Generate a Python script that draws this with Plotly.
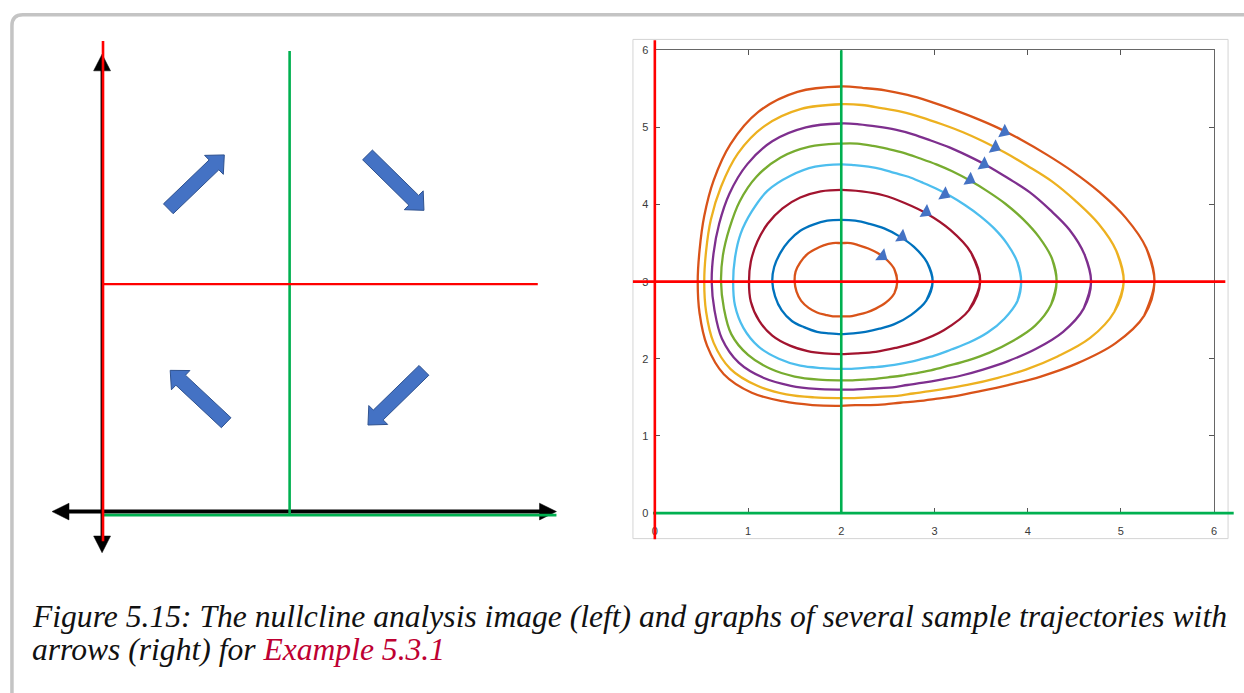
import math
import plotly.graph_objects as go

W, H = 1244, 693

# ======================= DATA =======================
# Right panel: sample trajectories around the equilibrium (2, 3)
orbit_colors = ["#D95319", "#0072BD", "#A2142F", "#4DBEEE", "#77AC30", "#7E2F8E", "#EDB120", "#D95319"]

orbit0_x = [2.60, 2.57, 2.48, 2.37, 2.27, 2.17, 2.09, 2.00, 1.91, 1.83, 1.74, 1.65, 1.57, 1.52, 1.50, 1.51, 1.56, 1.63, 1.72, 1.81, 1.91, 2.00, 2.10, 2.19, 2.29, 2.39, 2.49, 2.57]
orbit0_y = [3.00, 2.85, 2.73, 2.65, 2.60, 2.57, 2.55, 2.55, 2.55, 2.57, 2.60, 2.66, 2.75, 2.87, 3.00, 3.13, 3.25, 3.35, 3.42, 3.47, 3.50, 3.50, 3.50, 3.47, 3.43, 3.37, 3.28, 3.16]
orbit1_x = [2.98, 2.91, 2.75, 2.57, 2.41, 2.26, 2.13, 2.00, 1.87, 1.74, 1.60, 1.47, 1.36, 1.29, 1.26, 1.28, 1.35, 1.44, 1.56, 1.70, 1.85, 2.00, 2.15, 2.30, 2.46, 2.62, 2.78, 2.92]
orbit1_y = [3.00, 2.75, 2.57, 2.45, 2.39, 2.35, 2.33, 2.32, 2.33, 2.35, 2.41, 2.49, 2.63, 2.81, 3.00, 3.19, 3.38, 3.53, 3.66, 3.74, 3.79, 3.80, 3.79, 3.75, 3.69, 3.59, 3.45, 3.25]
orbit2_x = [3.49, 3.37, 3.10, 2.82, 2.58, 2.37, 2.18, 2.00, 1.82, 1.64, 1.45, 1.26, 1.12, 1.03, 1.01, 1.03, 1.10, 1.21, 1.37, 1.56, 1.78, 2.00, 2.22, 2.45, 2.68, 2.92, 3.17, 3.39]
orbit2_y = [3.00, 2.63, 2.37, 2.22, 2.14, 2.09, 2.07, 2.06, 2.07, 2.10, 2.17, 2.30, 2.49, 2.74, 3.00, 3.26, 3.52, 3.75, 3.95, 4.09, 4.17, 4.19, 4.17, 4.12, 4.02, 3.88, 3.67, 3.38]
orbit3_x = [3.93, 3.89, 3.75, 3.57, 3.37, 3.18, 3.00, 2.84, 2.70, 2.57, 2.44, 2.33, 2.22, 2.11, 2.00, 1.79, 1.56, 1.33, 1.11, 0.95, 0.86, 0.84, 0.86, 0.92, 1.04, 1.21, 1.45, 1.72, 2.00, 2.14, 2.29, 2.43, 2.57, 2.72, 2.86, 3.01, 3.17, 3.33, 3.49, 3.64, 3.78, 3.89]
orbit3_y = [3.00, 2.75, 2.52, 2.34, 2.21, 2.12, 2.04, 1.99, 1.95, 1.92, 1.90, 1.89, 1.88, 1.87, 1.87, 1.88, 1.91, 2.00, 2.16, 2.40, 2.69, 3.00, 3.31, 3.62, 3.91, 4.18, 4.37, 4.49, 4.52, 4.51, 4.49, 4.46, 4.41, 4.36, 4.29, 4.21, 4.11, 3.99, 3.85, 3.69, 3.49, 3.25]
orbit4_x = [4.31, 4.25, 4.08, 3.84, 3.59, 3.36, 3.15, 2.96, 2.79, 2.64, 2.50, 2.37, 2.24, 2.12, 2.00, 1.76, 1.50, 1.24, 1.00, 0.82, 0.74, 0.71, 0.73, 0.80, 0.91, 1.09, 1.35, 1.66, 2.00, 2.17, 2.34, 2.50, 2.67, 2.84, 3.02, 3.19, 3.38, 3.57, 3.76, 3.95, 4.12, 4.26]
orbit4_y = [3.00, 2.70, 2.43, 2.23, 2.08, 1.98, 1.91, 1.85, 1.81, 1.78, 1.76, 1.74, 1.73, 1.72, 1.72, 1.73, 1.77, 1.87, 2.05, 2.32, 2.66, 3.00, 3.34, 3.69, 4.04, 4.36, 4.61, 4.75, 4.79, 4.79, 4.76, 4.72, 4.67, 4.60, 4.52, 4.43, 4.31, 4.17, 4.01, 3.81, 3.58, 3.30]
orbit5_x = [4.68, 4.60, 4.38, 4.09, 3.79, 3.52, 3.28, 3.07, 2.88, 2.71, 2.55, 2.41, 2.27, 2.13, 2.00, 1.73, 1.46, 1.17, 0.90, 0.72, 0.64, 0.61, 0.63, 0.69, 0.80, 0.99, 1.26, 1.62, 2.00, 2.19, 2.39, 2.58, 2.77, 2.96, 3.16, 3.36, 3.57, 3.79, 4.02, 4.24, 4.45, 4.61]
orbit5_y = [3.00, 2.65, 2.35, 2.13, 1.97, 1.86, 1.78, 1.73, 1.69, 1.66, 1.63, 1.62, 1.61, 1.60, 1.60, 1.61, 1.65, 1.75, 1.95, 2.26, 2.63, 3.00, 3.37, 3.75, 4.14, 4.52, 4.82, 5.00, 5.05, 5.04, 5.01, 4.97, 4.91, 4.83, 4.74, 4.63, 4.50, 4.34, 4.16, 3.93, 3.67, 3.35]
orbit6_x = [5.03, 4.93, 4.67, 4.32, 3.98, 3.67, 3.39, 3.16, 2.95, 2.77, 2.60, 2.44, 2.29, 2.14, 2.00, 1.71, 1.41, 1.10, 0.81, 0.63, 0.55, 0.53, 0.55, 0.60, 0.71, 0.89, 1.18, 1.57, 2.00, 2.22, 2.43, 2.65, 2.86, 3.08, 3.30, 3.52, 3.76, 4.00, 4.26, 4.51, 4.76, 4.95]
orbit6_y = [3.00, 2.61, 2.27, 2.03, 1.86, 1.75, 1.67, 1.62, 1.58, 1.55, 1.52, 1.51, 1.50, 1.49, 1.49, 1.50, 1.54, 1.65, 1.87, 2.21, 2.61, 3.00, 3.40, 3.80, 4.23, 4.66, 5.02, 5.24, 5.30, 5.29, 5.25, 5.20, 5.13, 5.04, 4.94, 4.82, 4.67, 4.50, 4.30, 4.05, 3.75, 3.40]
orbit7_x = [5.36, 5.25, 4.94, 4.53, 4.14, 3.79, 3.49, 3.24, 3.01, 2.82, 2.63, 2.47, 2.31, 2.15, 2.00, 1.69, 1.37, 1.04, 0.74, 0.56, 0.48, 0.46, 0.48, 0.53, 0.63, 0.81, 1.11, 1.53, 2.00, 2.24, 2.47, 2.71, 2.94, 3.18, 3.42, 3.67, 3.93, 4.20, 4.48, 4.77, 5.05, 5.27]
orbit7_y = [3.00, 2.56, 2.20, 1.94, 1.77, 1.66, 1.58, 1.52, 1.48, 1.45, 1.43, 1.41, 1.40, 1.40, 1.39, 1.40, 1.45, 1.56, 1.80, 2.17, 2.59, 3.00, 3.41, 3.85, 4.31, 4.78, 5.20, 5.46, 5.53, 5.51, 5.48, 5.42, 5.34, 5.24, 5.13, 5.00, 4.84, 4.65, 4.43, 4.16, 3.83, 3.44]

orbits_x = [orbit0_x, orbit1_x, orbit2_x, orbit3_x, orbit4_x, orbit5_x, orbit6_x, orbit7_x]
orbits_y = [orbit0_y, orbit1_y, orbit2_y, orbit3_y, orbit4_y, orbit5_y, orbit6_y, orbit7_y]

# direction arrowheads on the trajectories
arrow_x = [2.44, 2.65, 2.91, 3.11, 3.38, 3.53, 3.65, 3.75]
arrow_y = [3.33, 3.58, 3.90, 4.13, 4.32, 4.52, 4.74, 4.94]
arrow_angle = [37, 32, 30, 29, 29, 28, 27, 26]   # degrees below horizontal

tick_vals = [0, 1, 2, 3, 4, 5, 6]

# nullclines (same in both panels)
red_vertical_x = 0
red_horizontal_y = 3
green_vertical_x = 2
green_horizontal_y = 0

# right-panel nullcline extents
right_red_v_span = [-0.34, 6.13]
right_red_h_span = [-0.235, 6.12]
right_green_v_span = [0, 6]
right_green_h_span = [-0.02, 6.21]

# left panel (nullcline sketch)
left_red_v_span = [-0.34, 6.16]
left_red_h_span = [0, 4.66]
left_green_v_span = [0, 6.03]
left_green_h_span = [0, 4.86]
left_axis_x = -0.01
left_axis_y = 0.045
left_axis_h_span = [-0.546, 4.86]
left_axis_v_span = [-0.49, 5.99]
quad_tail_x = [0.70, 2.835, 1.32, 3.44]
quad_tail_y = [3.98, 4.68, 1.20, 1.88]
quad_tip_x = [1.30, 3.44, 0.72, 2.84]
quad_tip_y = [4.68, 3.96, 1.88, 1.17]

caption_line1 = "Figure 5.15: The nullcline analysis image (left) and graphs of several sample trajectories with"
caption_line2 = "arrows (right) for "
caption_link = "Example 5.3.1"

# ======================= GEOMETRY / STYLE =======================
RED = "#FF0000"
GREEN = "#00B050"
BLUE_FILL = "#4472C4"
BLUE_EDGE = "#2F528F"

def px2x(p): return p / W
def px2y(p): return 1 - p / H

def xaxis_def(px0, px1, origin, scale):
    return dict(domain=[px0 / W, px1 / W], range=[(px0 - origin) / scale, (px1 - origin) / scale])

def yaxis_def(px0, px1, origin, scale):
    return dict(domain=[1 - px1 / H, 1 - px0 / H], range=[(origin - px1) / scale, (origin - px0) / scale])

# left panel mapping
L_OX, L_OY, L_SX, L_SY = 100.5, 518.0, 93.75, 78.3
# right panel mapping
R_OX, R_OY = 655.0, 516.0
R_SX, R_SY = (1217.0 - 655.0) / 6, (516.0 - 45.0) / 6

hidden = dict(visible=False, showgrid=False, zeroline=False, fixedrange=True)

fig = go.Figure()

def line_trace(xs, ys, color, width, xa, ya):
    return go.Scatter(x=xs, y=ys, mode="lines", line=dict(color=color, width=width),
                      xaxis=xa, yaxis=ya, showlegend=False, hoverinfo="skip")

def poly_trace(xs, ys, fill, edge, width, xa, ya):
    return go.Scatter(x=xs, y=ys, mode="lines", fill="toself", fillcolor=fill,
                      line=dict(color=edge, width=width), xaxis=xa, yaxis=ya,
                      showlegend=False, hoverinfo="skip")

def block_arrow(tx, ty, hx, hy, sx, sy, body_w, head_w, head_l):
    ax, ay = tx * sx, ty * sy
    bx, by = hx * sx, hy * sy
    L = math.hypot(bx - ax, by - ay)
    dx, dy = (bx - ax) / L, (by - ay) / L
    nx, ny = -dy, dx
    kx, ky = bx - dx * head_l, by - dy * head_l
    pts = [(ax + nx * body_w / 2, ay + ny * body_w / 2),
           (kx + nx * body_w / 2, ky + ny * body_w / 2),
           (kx + nx * head_w / 2, ky + ny * head_w / 2),
           (bx, by),
           (kx - nx * head_w / 2, ky - ny * head_w / 2),
           (kx - nx * body_w / 2, ky - ny * body_w / 2),
           (ax - nx * body_w / 2, ay - ny * body_w / 2)]
    pts.append(pts[0])
    return [p[0] / sx for p in pts], [p[1] / sy for p in pts]

def head_tri(hx, hy, dx, dy, sx, sy, length, width):
    bx, by = hx * sx, hy * sy
    kx, ky = bx - dx * length, by - dy * length
    nx, ny = -dy, dx
    pts = [(bx, by), (kx + nx * width / 2, ky + ny * width / 2), (kx - nx * width / 2, ky - ny * width / 2), (bx, by)]
    return [p[0] / sx for p in pts], [p[1] / sy for p in pts]

# ---------- left panel (x2/y2) ----------
XL, YL = "x2", "y2"
cut_x = 10 / L_SX
cut_y = 10 / L_SY
fig.add_trace(line_trace([left_axis_h_span[0] + cut_x, left_axis_h_span[1] - cut_x], [left_axis_y, left_axis_y], "black", 4, XL, YL))
fig.add_trace(line_trace([left_axis_x, left_axis_x], [left_axis_v_span[0] + cut_y, left_axis_v_span[1] - cut_y], "black", 3, XL, YL))
for hx, hy, dx, dy in [(left_axis_h_span[0], left_axis_y, -1, 0), (left_axis_h_span[1], left_axis_y, 1, 0),
                       (left_axis_x, left_axis_v_span[0], 0, -1), (left_axis_x, left_axis_v_span[1], 0, 1)]:
    xs, ys = head_tri(hx, hy, dx, dy, L_SX, L_SY, 17, 17)
    fig.add_trace(poly_trace(xs, ys, "black", "black", 0.5, XL, YL))
fig.add_trace(line_trace([green_vertical_x, green_vertical_x], left_green_v_span, GREEN, 2.6, XL, YL))
fig.add_trace(line_trace(left_green_h_span, [green_horizontal_y, green_horizontal_y], GREEN, 2.8, XL, YL))
fig.add_trace(line_trace([red_vertical_x, red_vertical_x], left_red_v_span, RED, 2.6, XL, YL))
fig.add_trace(line_trace(left_red_h_span, [red_horizontal_y, red_horizontal_y], RED, 2.2, XL, YL))
for tx, ty, hx, hy in zip(quad_tail_x, quad_tail_y, quad_tip_x, quad_tip_y):
    xs, ys = block_arrow(tx, ty, hx, hy, L_SX, L_SY, 14, 27, 14.5)
    fig.add_trace(poly_trace(xs, ys, BLUE_FILL, BLUE_EDGE, 1, XL, YL))

# ---------- right panel trajectories (x/y) ----------
for xs, ys, c in zip(orbits_x, orbits_y, orbit_colors):
    fig.add_trace(go.Scatter(x=[xs[-1]] + xs + [xs[0], xs[1]], y=[ys[-1]] + ys + [ys[0], ys[1]],
                             mode="lines", line=dict(color=c, width=2.3, shape="spline", smoothing=1.0),
                             xaxis="x", yaxis="y", showlegend=False, hoverinfo="skip"))
fig.add_trace(go.Scatter(x=arrow_x, y=arrow_y, mode="markers",
                         marker=dict(symbol="triangle-right", size=13, color=BLUE_FILL, angle=arrow_angle,
                                     line=dict(width=0)),
                         xaxis="x", yaxis="y", showlegend=False, hoverinfo="skip"))

# ---------- right panel nullclines (x3/y3, wider area) ----------
XR, YR = "x3", "y3"
fig.add_trace(line_trace([green_vertical_x, green_vertical_x], right_green_v_span, GREEN, 2.6, XR, YR))
fig.add_trace(line_trace(right_green_h_span, [green_horizontal_y, green_horizontal_y], GREEN, 2.8, XR, YR))
fig.add_trace(line_trace([red_vertical_x, red_vertical_x], right_red_v_span, RED, 2.6, XR, YR))
fig.add_trace(line_trace(right_red_h_span, [red_horizontal_y, red_horizontal_y], RED, 2.6, XR, YR))

tickfont = dict(family="Liberation Sans, Arial, sans-serif", size=11, color="#3a3a3a")
common = dict(tickvals=tick_vals, ticks="inside", ticklen=5, tickwidth=1, tickcolor="#555",
              showline=True, linecolor="#666", linewidth=1.3, mirror="ticks",
              showgrid=False, zeroline=False, tickfont=tickfont, fixedrange=True)

fig.update_layout(
    width=W, height=H,
    margin=dict(l=0, r=0, t=0, b=0),
    paper_bgcolor="white", plot_bgcolor="rgba(0,0,0,0)",
    showlegend=False,
    xaxis=dict(**xaxis_def(655, 1217, R_OX, R_SX), anchor="y", ticklabelstandoff=7, **common),
    yaxis=dict(**yaxis_def(45, 516, R_OY, R_SY), anchor="x", ticklabelstandoff=3, **common),
    xaxis2=dict(**xaxis_def(20, 600, L_OX, L_SX), anchor="y2", **hidden),
    yaxis2=dict(**yaxis_def(20, 590, L_OY, L_SY), anchor="x2", **hidden),
    xaxis3=dict(**xaxis_def(620, 1244, R_OX, R_SX), anchor="y3", **hidden),
    yaxis3=dict(**yaxis_def(25, 560, R_OY, R_SY), anchor="x3", **hidden),
)

# outer rounded frame of the figure box
frame_path = (f"M {px2x(9)},{px2y(760)} L {px2x(9)},{px2y(20)} "
              f"Q {px2x(9)},{px2y(9)} {px2x(20)},{px2y(9)} L {px2x(1300)},{px2y(9)}")
fig.add_shape(type="path", xref="paper", yref="paper", path=frame_path,
              line=dict(color="#c4c4c4", width=3.5), layer="below")
# light border of the right image
fig.add_shape(type="rect", xref="paper", yref="paper", x0=px2x(633), x1=px2x(1231), y0=px2y(542), y1=px2y(34),
              line=dict(color="#d4d4d4", width=1), layer="below")

cap_font = dict(family="Liberation Serif, Times New Roman, serif", size=31.6, color="#111")
fig.add_annotation(xref="paper", yref="paper", x=px2x(27), y=px2y(621.5), xanchor="left", yanchor="middle",
                   text=f"<i>{caption_line1}</i>", showarrow=False, font=cap_font)
fig.add_annotation(xref="paper", yref="paper", x=px2x(27), y=px2y(654.5), xanchor="left", yanchor="middle",
                   text=f"<i>{caption_line2}<span style='color:#BE0032'>{caption_link}</span></i>",
                   showarrow=False, font=cap_font)

fig.write_html("out.html", config={"displayModeBar": False, "staticPlot": True},
               post_script="document.body.style.margin='0';document.documentElement.style.overflow='hidden';document.body.style.overflow='hidden';")
